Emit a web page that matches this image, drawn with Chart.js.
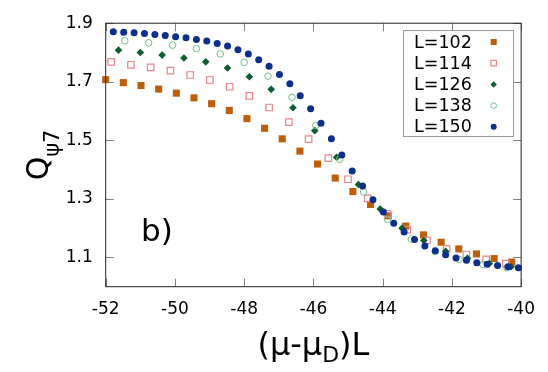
<!DOCTYPE html>
<html>
<head>
<meta charset="utf-8">
<script src="https://cdn.jsdelivr.net/npm/chart.js@4.4.0/dist/chart.umd.min.js"></script>
<style>
  html, body { margin: 0; padding: 0; background: #fff; }
  #wrap { width: 548px; height: 372px; }
</style>
</head>
<body>
<div id="wrap"><canvas id="chart"></canvas></div>
<script>
// legend names, one per system size
const sizes = ['L=102', 'L=114', 'L=126', 'L=138', 'L=150'];

// (mu-muD)L and Q values
const x102 = [-52.00, -51.49, -50.98, -50.47, -49.96, -49.45, -48.94, -48.43, -47.92, -47.41, -46.90, -46.39,
              -45.88, -45.37, -44.86, -44.35, -43.84, -43.33, -42.82, -42.31, -41.80, -41.29, -40.78, -40.27];
const q102 = [1.707, 1.697, 1.687, 1.675, 1.661, 1.645, 1.625, 1.602, 1.574, 1.541, 1.505, 1.463,
              1.419, 1.371, 1.325, 1.281, 1.242, 1.207, 1.177, 1.152, 1.129, 1.112, 1.096, 1.084];

const x114 = [-51.84, -51.27, -50.70, -50.13, -49.56, -48.99, -48.42, -47.85, -47.28, -46.71, -46.14,
              -45.57, -45.00, -44.43, -43.86, -43.29, -42.72, -42.15, -41.58, -41.01, -40.44];
const q114 = [1.768, 1.758, 1.749, 1.738, 1.723, 1.706, 1.683, 1.652, 1.612, 1.562, 1.504,
              1.439, 1.367, 1.302, 1.249, 1.195, 1.158, 1.129, 1.110, 1.093, 1.079];

const x126 = [-51.63, -51.00, -50.37, -49.74, -49.11, -48.48, -47.85, -47.22, -46.59, -45.96,
              -45.33, -44.70, -44.07, -43.44, -42.81, -42.18, -41.55, -40.92, -40.29];
const q126 = [1.808, 1.800, 1.791, 1.781, 1.768, 1.747, 1.717, 1.674, 1.611, 1.533,
              1.442, 1.349, 1.265, 1.200, 1.158, 1.121, 1.097, 1.079, 1.068];

const x138 = [-51.45, -50.76, -50.07, -49.38, -48.69, -48.00, -47.31, -46.62, -45.93,
              -45.24, -44.55, -43.86, -43.17, -42.48, -41.79, -41.10, -40.41];
const q138 = [1.840, 1.833, 1.825, 1.813, 1.795, 1.766, 1.719, 1.647, 1.551,
              1.435, 1.323, 1.230, 1.163, 1.120, 1.093, 1.076, 1.065];

const x150 = [-51.78, -51.48, -51.18, -50.88, -50.58, -50.28, -49.98, -49.68, -49.38, -49.08,
              -48.78, -48.48, -48.18, -47.88, -47.58, -47.28, -46.98, -46.68, -46.38, -46.08,
              -45.78, -45.48, -45.18, -44.88, -44.58, -44.28, -43.98, -43.68, -43.38, -43.08,
              -42.78, -42.48, -42.18, -41.88, -41.58, -41.28, -40.98, -40.68, -40.38, -40.08];
const q150 = [1.871, 1.869, 1.867, 1.865, 1.861, 1.858, 1.854, 1.850, 1.844, 1.839,
              1.831, 1.822, 1.809, 1.795, 1.775, 1.753, 1.725, 1.693, 1.652, 1.608,
              1.558, 1.505, 1.450, 1.395, 1.344, 1.297, 1.255, 1.217, 1.187, 1.161,
              1.139, 1.123, 1.109, 1.098, 1.090, 1.082, 1.077, 1.072, 1.068, 1.065];

// tick labels
const xTicks = [-52, -50, -48, -46, -44, -42, -40];
const yTicks = [1.1, 1.3, 1.5, 1.7, 1.9];

const FONT = 'DejaVu Sans';

function pts(xs, ys) {
  return xs.map((x, i) => ({ x: x, y: ys[i] }));
}

const orange = '#bd5e0b';
const pink = '#e8868a';
const dgreen = '#0b5e30';
const lgreen = '#72c088';
const blue = '#0d2f8c';

const datasets = [
  { label: sizes[0], data: pts(x102, q102), pointStyle: 'rect', pointRadius: 5,
    backgroundColor: orange, borderColor: orange, borderWidth: 0, order: 5 },
  { label: sizes[1], data: pts(x114, q114), pointStyle: 'rect', pointRadius: 4.6,
    backgroundColor: 'rgba(0,0,0,0)', borderColor: pink, borderWidth: 1.2, order: 4 },
  { label: sizes[2], data: pts(x126, q126), pointStyle: 'rectRot', pointRadius: 3.8,
    backgroundColor: dgreen, borderColor: dgreen, borderWidth: 0, order: 3 },
  { label: sizes[3], data: pts(x138, q138), pointStyle: 'circle', pointRadius: 3.3,
    backgroundColor: 'rgba(0,0,0,0)', borderColor: lgreen, borderWidth: 1, order: 2 },
  { label: sizes[4], data: pts(x150, q150), pointStyle: 'circle', pointRadius: 3.5,
    backgroundColor: blue, borderColor: blue, borderWidth: 0, order: 1 }
];
datasets.forEach(d => { d.clip = false; d.showLine = false; d.pointHoverRadius = d.pointRadius; });

// draws text made of pieces, some of them lowered as subscripts
function richText(ctx, parts, size, subSize, shift) {
  let w = 0;
  parts.forEach(p => {
    ctx.font = (p.sub ? subSize : size) + 'px ' + FONT;
    p.w = ctx.measureText(p.t).width;
    w += p.w;
  });
  let x = -w / 2;
  parts.forEach(p => {
    ctx.font = (p.sub ? subSize : size) + 'px ' + FONT;
    ctx.fillText(p.t, x, p.sub ? shift : 0);
    x += p.w;
  });
}

const decor = {
  id: 'decor',
  afterDraw(chart) {
    const ctx = chart.ctx;
    const a = chart.chartArea;
    const xs = chart.scales.x, ys = chart.scales.y;
    ctx.save();

    // inner ticks, all four sides
    ctx.strokeStyle = '#808080';
    ctx.lineWidth = 1;
    ctx.beginPath();
    xTicks.forEach(v => {
      const px = Math.round(xs.getPixelForValue(v)) + 0.5;
      ctx.moveTo(px, a.bottom); ctx.lineTo(px, a.bottom - 8);
      ctx.moveTo(px, a.top); ctx.lineTo(px, a.top + 8);
    });
    yTicks.forEach(v => {
      const py = Math.round(ys.getPixelForValue(v)) + 0.5;
      ctx.moveTo(a.left, py); ctx.lineTo(a.left + 8, py);
      ctx.moveTo(a.right, py); ctx.lineTo(a.right - 8, py);
    });
    ctx.stroke();

    // frame
    ctx.strokeStyle = '#222';
    ctx.strokeRect(a.left, a.top, a.right - a.left, a.bottom - a.top);

    ctx.fillStyle = '#000';
    ctx.textBaseline = 'alphabetic';
    ctx.textAlign = 'left';

    // x title
    ctx.save();
    ctx.translate((a.left + a.right) / 2, 355);
    richText(ctx, [{ t: '(μ-μ' }, { t: 'D', sub: true }, { t: ')L' }], 32, 22, 7);
    ctx.restore();

    // y title
    ctx.save();
    ctx.translate(48, (a.top + a.bottom) / 2);
    ctx.rotate(-Math.PI / 2);
    richText(ctx, [{ t: 'Q' }, { t: 'ψ7', sub: true }], 30, 21, 11);
    ctx.restore();

    // panel tag
    ctx.font = '31px ' + FONT;
    ctx.fillText('b)', 141, 241);

    // legend box, text left and marker right
    ctx.strokeStyle = '#9a9a9a';
    ctx.lineWidth = 1;
    ctx.strokeRect(403.5, 30.5, 110, 106);
    ctx.font = '17.5px ' + FONT;
    ctx.textBaseline = 'middle';
    chart.data.datasets.forEach((d, i) => {
      const cy = 42 + i * 21.2;
      ctx.fillStyle = '#000';
      ctx.fillText(d.label, 414, cy + 1);
      ctx.fillStyle = d.backgroundColor;
      ctx.strokeStyle = d.borderColor;
      ctx.lineWidth = d.borderWidth;
      Chart.helpers.drawPoint(ctx, {
        pointStyle: d.pointStyle, radius: d.pointRadius * 0.85, rotation: 0, borderWidth: d.borderWidth
      }, 493.7, cy);
    });

    ctx.restore();
  }
};

new Chart(document.getElementById('chart'), {
  type: 'scatter',
  data: { datasets: datasets },
  options: {
    responsive: true,
    maintainAspectRatio: false,
    animation: false,
    events: [],
    layout: { padding: { left: 0, right: 22.3, top: 22.3, bottom: 0 } },
    plugins: { legend: { display: false }, tooltip: { enabled: false } },
    scales: {
      x: {
        type: 'linear', min: -52, max: -40,
        afterBuildTicks: s => { s.ticks = xTicks.map(v => ({ value: v })); },
        afterFit: s => { s.height = 85.3; },
        grid: { display: false, drawTicks: false },
        border: { display: false },
        ticks: { color: '#000', font: { family: FONT, size: 17 }, padding: 13, maxRotation: 0,
                 callback: v => String(v) }
      },
      y: {
        type: 'linear', min: 1.0, max: 1.9,
        afterBuildTicks: s => { s.ticks = yTicks.map(v => ({ value: v })); },
        afterFit: s => { s.width = 105.7; },
        grid: { display: false, drawTicks: false },
        border: { display: false },
        ticks: { color: '#000', font: { family: FONT, size: 17 }, padding: 13,
                 callback: v => v.toFixed(1) }
      }
    }
  },
  plugins: [decor]
});
</script>
</body>
</html>
